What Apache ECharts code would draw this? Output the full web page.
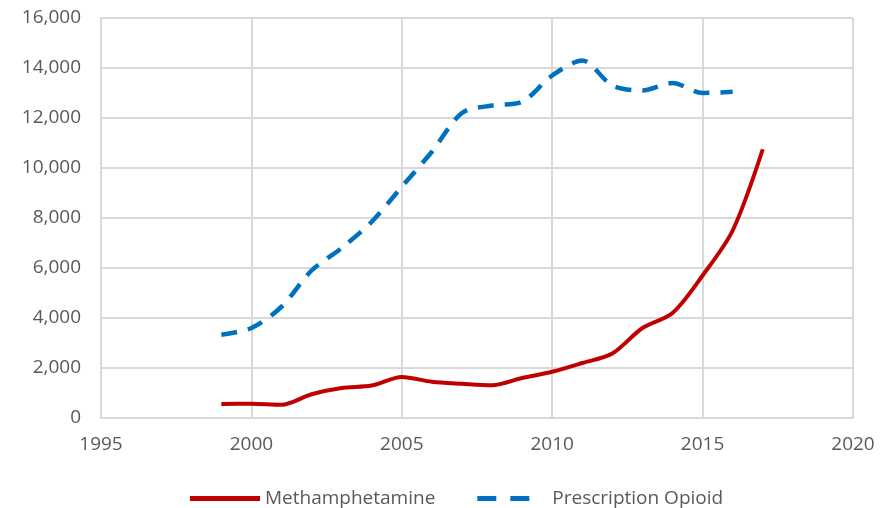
<!DOCTYPE html>
<html>
<head>
<meta charset="utf-8">
<title>Overdose deaths</title>
<script src="https://cdn.jsdelivr.net/npm/echarts@6/dist/echarts.min.js"></script>
<style>
  html, body { margin: 0; padding: 0; background: #fff; }
</style>
</head>
<body>
<div id="main" style="width: 891px; height: 508px;"></div>
<script type="text/javascript">
var years = [1999, 2000, 2001, 2002, 2003, 2004, 2005, 2006, 2007, 2008, 2009, 2010, 2011, 2012, 2013, 2014, 2015, 2016, 2017];
var meth = [560, 570, 530, 950, 1200, 1300, 1640, 1450, 1370, 1310, 1600, 1850, 2200, 2580, 3600, 4200, 5700, 7500, 10750];
var opioidYears = [1999, 2000, 2001, 2002, 2003, 2004, 2005, 2006, 2007, 2008, 2009, 2010, 2011, 2012, 2013, 2014, 2015, 2016];
var opioid = [3330, 3600, 4450, 5900, 6800, 7850, 9250, 10650, 12200, 12500, 12650, 13700, 14300, 13300, 13100, 13400, 13000, 13050];
var seriesNames = ['Methamphetamine', 'Prescription Opioid'];

function pairs(xs, ys) {
    return xs.map(function (x, i) { return [x, ys[i]]; });
}

var myChart = echarts.init(document.getElementById('main'));
var textColor = '#595959';
var gridColor = '#d9d9d9';

myChart.setOption({
    backgroundColor: '#fff',
    animation: false,
    textStyle: { fontFamily: 'Open Sans', color: textColor },
    grid: { left: 101, right: 38, top: 18, bottom: 90, containLabel: false },
    legend: {
        top: 484,
        left: 185,
        itemWidth: 70,
        itemHeight: 5,
        itemGap: 42,
        symbolKeepAspect: false,
        textStyle: { fontSize: 19, color: textColor, fontFamily: 'Open Sans' },
        data: [
            { name: seriesNames[0], icon: 'path://M0,0 L70,0 L70,5 L0,5 Z' },
            // two dashes, then empty room before the text
            { name: seriesNames[1], icon: 'path://M0,0 L19,0 L19,5 L0,5 Z M33,0 L52,0 L52,5 L33,5 Z M70,0 L70,0 Z' }
        ]
    },
    xAxis: {
        type: 'value',
        min: 1995,
        max: 2020,
        interval: 5,
        axisLine: { show: true, lineStyle: { color: gridColor, width: 2 } },
        axisTick: { show: false },
        splitLine: { show: true, lineStyle: { color: gridColor, width: 2 } },
        axisLabel: {
            color: textColor,
            fontSize: 19,
            margin: 17,
            formatter: function (v) { return String(v); }
        }
    },
    yAxis: {
        type: 'value',
        min: 0,
        max: 16000,
        interval: 2000,
        axisLine: { show: true, lineStyle: { color: gridColor, width: 2 } },
        axisTick: { show: false },
        splitLine: { show: true, lineStyle: { color: gridColor, width: 2 } },
        axisLabel: {
            color: textColor,
            fontSize: 19,
            margin: 20,
            formatter: function (v) { return v.toLocaleString('en-US'); }
        }
    },
    series: [
        {
            name: seriesNames[0],
            type: 'line',
            smooth: 0.3,
            showSymbol: false,
            symbol: 'none',
            color: '#c00000',
            lineStyle: { color: '#c00000', width: 4 },
            data: pairs(years, meth)
        },
        {
            name: seriesNames[1],
            type: 'line',
            smooth: 0.3,
            showSymbol: false,
            symbol: 'none',
            color: '#0070c0',
            lineStyle: { color: '#0070c0', width: 4.5, type: [16, 11] },
            data: pairs(opioidYears, opioid)
        }
    ]
});
</script>
</body>
</html>
